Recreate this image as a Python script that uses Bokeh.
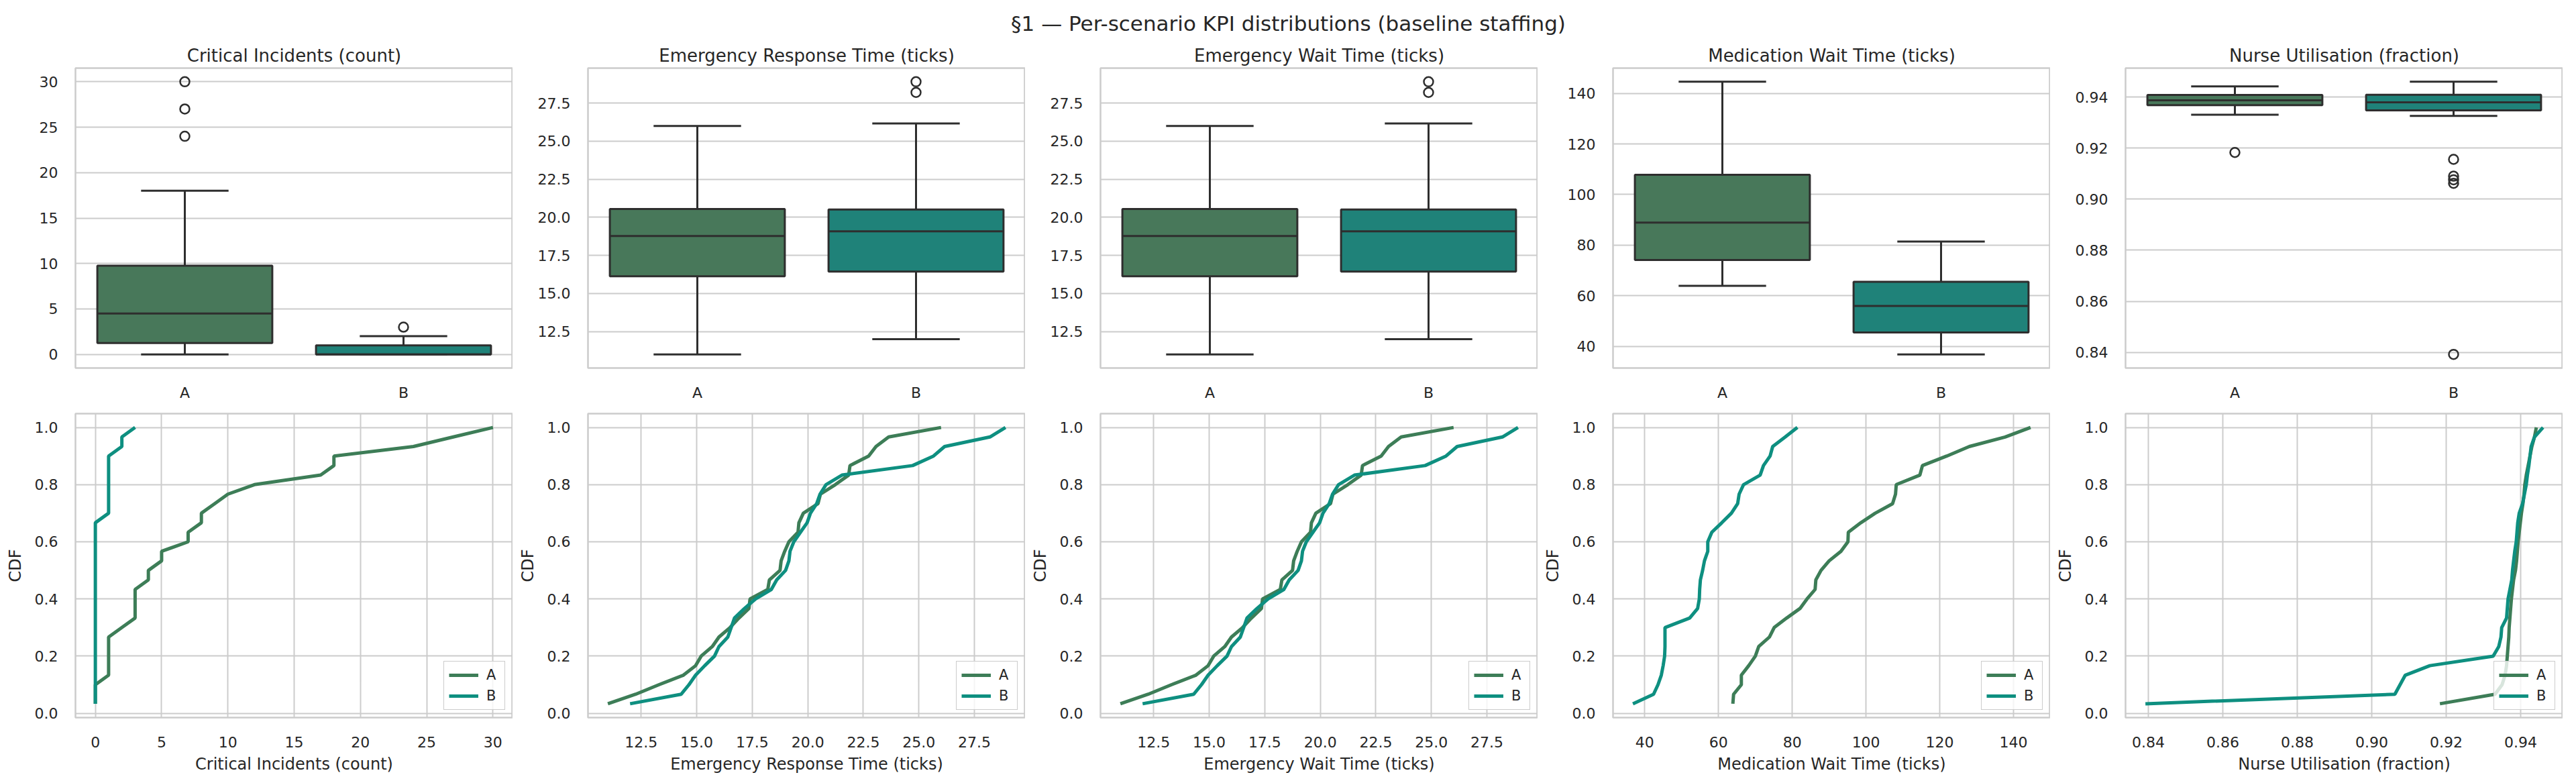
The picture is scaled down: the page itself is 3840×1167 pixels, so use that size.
import numpy as np
from bokeh.plotting import figure
from bokeh.layouts import column, row
from bokeh.models import (Range1d, FixedTicker, SingleIntervalTicker, PrintfTickFormatter,
                          Legend, LegendItem, ColumnDataSource)
from bokeh.embed import file_html
from bokeh.resources import INLINE
from bokeh.core.properties import value

# ---------------- data ----------------
suptitle = "§1 — Per-scenario KPI distributions (baseline staffing)"
categories = ["A", "B"]
kpi_titles = ["Critical Incidents (count)", "Emergency Response Time (ticks)",
              "Emergency Wait Time (ticks)", "Medication Wait Time (ticks)",
              "Nurse Utilisation (fraction)"]

ci_a = [0, 0, 0, 1, 1, 1, 1, 1, 2, 3, 3, 3, 3, 4, 4, 5, 5, 7, 7, 8, 8, 9, 10, 12, 17, 18, 18, 24, 27, 30]
ci_b = [0, 0, 0, 0, 0, 0, 0, 0, 0, 0, 0, 0, 0, 0, 0, 0, 0, 0, 0, 0, 1, 1, 1, 1, 1, 1, 1, 2, 2, 3]

ert_a = [11.0, 12.25, 13.3, 14.4, 14.95, 15.2, 15.7, 16.0, 16.5, 16.9, 17.35, 17.4, 18.2, 18.27, 18.75,
         18.8, 18.96, 19.15, 19.56, 19.6, 19.8, 20.46, 20.57, 21.24, 21.84, 21.9, 22.74, 23.07, 23.64, 26.0]
ert_b = [12.0, 14.3, 14.65, 14.95, 15.36, 15.8, 16.0, 16.4, 16.55, 16.7, 17.15, 17.65, 18.36, 18.6, 19.0,
         19.15, 19.2, 19.37, 19.67, 19.97, 20.12, 20.4, 20.55, 20.82, 21.54, 24.72, 25.66, 26.16, 28.2, 28.9]

ewt_a = [11.0, 12.25, 13.3, 14.4, 14.95, 15.2, 15.7, 16.0, 16.5, 16.9, 17.35, 17.4, 18.2, 18.27, 18.75,
         18.8, 18.96, 19.15, 19.56, 19.6, 19.8, 20.46, 20.57, 21.24, 21.84, 21.9, 22.74, 23.07, 23.64, 26.0]
ewt_b = [12.0, 14.3, 14.65, 14.95, 15.36, 15.8, 16.0, 16.4, 16.55, 16.7, 17.15, 17.65, 18.36, 18.6, 19.0,
         19.15, 19.2, 19.37, 19.67, 19.97, 20.12, 20.4, 20.55, 20.82, 21.54, 24.72, 25.66, 26.16, 28.2, 28.9]

mwt_a = [63.9, 64.1, 66.2, 66.2, 68.2, 70.0, 70.9, 73.8, 75.1, 78.5, 82.1, 84.0, 86.2, 86.4, 87.8,
         90.0, 93.2, 95.1, 95.2, 98.6, 102.5, 107.2, 108.0, 108.2, 114.6, 115.3, 121.9, 128.0, 137.7, 144.6]
mwt_b = [36.8, 42.4, 43.6, 44.5, 45.0, 45.4, 45.5, 45.5, 45.5, 52.2, 54.35, 54.8, 54.9, 55.1, 55.7,
         56.2, 57.1, 57.1, 58.2, 60.9, 63.5, 65.2, 65.6, 66.8, 71.3, 72.2, 74.0, 74.7, 78.1, 81.4]

nu_a = [0.9183, 0.9331, 0.9350, 0.9358, 0.9362, 0.9364, 0.9366, 0.9368, 0.9369, 0.9371, 0.9373, 0.9375,
        0.9378, 0.9381, 0.9386, 0.9389, 0.9391, 0.9393, 0.9396, 0.9399, 0.9402, 0.9406, 0.9409, 0.9411,
        0.9415, 0.9420, 0.9425, 0.9430, 0.9437, 0.9442]
nu_b = [0.8392, 0.9062, 0.9076, 0.9090, 0.9156, 0.9326, 0.9341, 0.9347, 0.9349, 0.9362, 0.9364, 0.9366,
        0.9371, 0.9376, 0.9378, 0.9381, 0.9384, 0.9388, 0.9390, 0.9392, 0.9396, 0.9405, 0.9410, 0.9415,
        0.9418, 0.9422, 0.9425, 0.9428, 0.9437, 0.9460]

datasets = [(ci_a, ci_b), (ert_a, ert_b), (ewt_a, ewt_b), (mwt_a, mwt_b), (nu_a, nu_b)]
tick_intervals = [5, 2.5, 2.5, 20, 0.02]
tick_formats = ["%d", "%.1f", "%.1f", "%d", "%.2f"]

# ---------------- style ----------------
FONT = "DejaVu Sans"
TXT = "#262626"
GRID = "#cccccc"
LINE_COLORS = ["#3d7d57", "#0e8f80"]
BOX_COLORS = ["#48785a", "#1f8279"]
BOX_LINE = "#2e2e2e"
BOX_LW = 3
FIG_W = 764


def box_stats(vals):
    v = np.sort(np.asarray(vals, dtype=float))
    q1, med, q3 = np.percentile(v, [25, 50, 75])
    iqr = q3 - q1
    lo_f, hi_f = q1 - 1.5 * iqr, q3 + 1.5 * iqr
    inside = v[(v >= lo_f) & (v <= hi_f)]
    out = v[(v < lo_f) | (v > hi_f)]
    return q1, med, q3, inside.min(), inside.max(), out


def padded(lo, hi, frac=0.05):
    pad = (hi - lo) * frac
    return lo - pad, hi + pad


def base_style(p):
    p.axis.major_tick_line_color = None
    p.axis.minor_tick_line_color = None
    p.axis.axis_line_color = None
    p.axis.major_label_text_font_size = "22px"
    p.axis.major_label_text_font = FONT
    p.axis.major_label_text_color = TXT
    p.axis.axis_label_text_font_size = "24px"
    p.axis.axis_label_text_font_style = "normal"
    p.axis.axis_label_text_font = FONT
    p.axis.axis_label_text_color = TXT
    p.outline_line_color = GRID
    p.outline_line_alpha = 1.0
    p.outline_line_width = 2.5
    p.grid.grid_line_color = GRID
    p.grid.grid_line_alpha = 1.0
    p.grid.grid_line_width = 2
    p.background_fill_color = "white"
    p.border_fill_color = "white"


tops, bottoms = [], []
for i, (title, (a, b)) in enumerate(zip(kpi_titles, datasets)):
    allv = np.concatenate([np.asarray(a, float), np.asarray(b, float)])
    lo, hi = padded(allv.min(), allv.max())

    # ---------- top: box plots ----------
    p = figure(width=FIG_W, height=540, x_range=Range1d(-0.5, len(categories) - 0.5),
               y_range=Range1d(lo, hi), output_backend="svg", toolbar_location=None,
               min_border_left=112, min_border_right=0, min_border_top=41, min_border_bottom=45)
    base_style(p)
    p.xgrid.grid_line_color = None
    p.title.text = title
    p.title.align = "center"
    p.title.text_font = FONT
    p.title.text_font_size = "26px"
    p.title.text_font_style = "normal"
    p.title.text_color = TXT
    p.title.standoff = 8

    xs = np.arange(len(categories), dtype=float)
    stats = [box_stats(v) for v in (a, b)]
    q1s = [s[0] for s in stats]
    meds = [s[1] for s in stats]
    q3s = [s[2] for s in stats]
    lws = [s[3] for s in stats]
    uws = [s[4] for s in stats]

    p.segment(x0=xs, y0=q3s, x1=xs, y1=uws, line_color=BOX_LINE, line_width=BOX_LW)
    p.segment(x0=xs, y0=q1s, x1=xs, y1=lws, line_color=BOX_LINE, line_width=BOX_LW)
    p.segment(x0=xs - 0.2, y0=uws, x1=xs + 0.2, y1=uws, line_color=BOX_LINE, line_width=BOX_LW)
    p.segment(x0=xs - 0.2, y0=lws, x1=xs + 0.2, y1=lws, line_color=BOX_LINE, line_width=BOX_LW)
    src = ColumnDataSource(dict(x=xs, top=q3s, bottom=q1s, fill=BOX_COLORS))
    p.vbar(x="x", top="top", bottom="bottom", width=0.8, fill_color="fill",
           line_color=BOX_LINE, line_width=BOX_LW, source=src)
    p.segment(x0=xs - 0.4, y0=meds, x1=xs + 0.4, y1=meds, line_color=BOX_LINE, line_width=BOX_LW)
    fx, fy = [], []
    for x, s in zip(xs, stats):
        fx += [x] * len(s[5])
        fy += list(s[5])
    if fx:
        p.scatter(x=fx, y=fy, marker="circle", size=14, fill_color=None,
                  line_color=BOX_LINE, line_width=2.5)

    p.xaxis.ticker = FixedTicker(ticks=list(xs))
    p.xaxis.major_label_overrides = {int(x): c for x, c in zip(xs, categories)}
    p.xaxis.major_label_standoff = 18
    p.yaxis.ticker = SingleIntervalTicker(interval=tick_intervals[i])
    p.yaxis.formatter = PrintfTickFormatter(format=tick_formats[i])
    p.yaxis.major_label_standoff = 20
    tops.append(p)

    # ---------- bottom: CDFs ----------
    n_max = max(len(a), len(b))
    ylo, yhi = padded(1.0 / n_max, 1.0)
    q = figure(width=FIG_W, height=567, x_range=Range1d(lo, hi), y_range=Range1d(ylo, yhi),
               output_backend="svg", toolbar_location=None,
               min_border_left=112, min_border_right=0, min_border_top=16, min_border_bottom=98)
    base_style(q)
    items = []
    for vals, col, lab in zip((a, b), LINE_COLORS, categories):
        v = np.sort(np.asarray(vals, float))
        y = np.arange(1, len(v) + 1) / len(v)
        r = q.line(v, y, line_color=col, line_width=5)
        items.append(LegendItem(label=lab, renderers=[r]))
    leg = Legend(items=items, location="bottom_right", label_text_font=FONT,
                 label_text_font_size="21px", label_text_color=TXT,
                 border_line_color=GRID, border_line_width=1.5, border_line_alpha=1.0,
                 background_fill_color="white", background_fill_alpha=0.8,
                 margin=11, padding=7, spacing=5, glyph_width=44, glyph_height=26,
                 label_height=26, label_standoff=12)
    q.add_layout(leg)
    q.xaxis.axis_label = title
    q.yaxis.axis_label = "CDF"
    q.xaxis.ticker = SingleIntervalTicker(interval=tick_intervals[i])
    q.xaxis.formatter = PrintfTickFormatter(format=tick_formats[i])
    q.yaxis.ticker = SingleIntervalTicker(interval=0.2)
    q.yaxis.formatter = PrintfTickFormatter(format="%.1f")
    q.xaxis.major_label_standoff = 22
    q.xaxis.axis_label_standoff = 8
    q.yaxis.major_label_standoff = 20
    q.yaxis.axis_label_standoff = 12
    bottoms.append(q)

# ---------- suptitle ----------
t = figure(width=3840, height=60, x_range=Range1d(0, 3840), y_range=Range1d(0, 60),
           x_axis_type=None, y_axis_type=None, toolbar_location=None, output_backend="svg",
           min_border=0, outline_line_color=None)
t.grid.visible = False
t.text(x=[1920], y=[26], text=[suptitle], text_align="center", text_baseline="middle",
       text_font=value(FONT), text_font_size="31px", text_color=TXT)

layout = column(t, row(*tops), row(*bottoms))
open("out.html", "w").write(file_html(layout, INLINE))
